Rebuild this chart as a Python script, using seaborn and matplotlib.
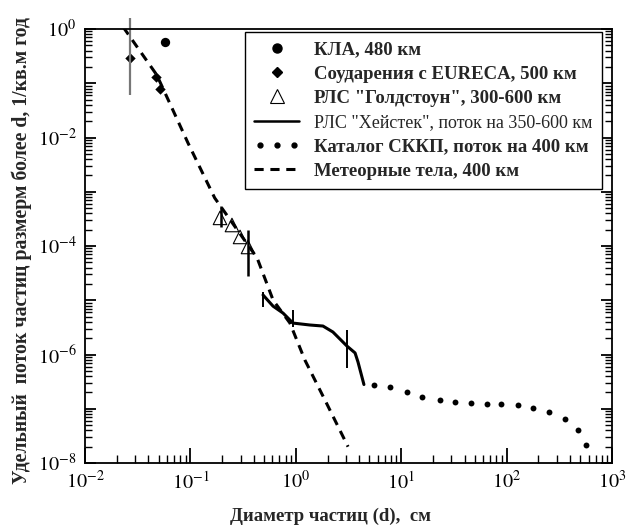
"""Удельный поток частиц космического мусора в зависимости от диаметра."""
import matplotlib

matplotlib.use("Agg")
import matplotlib.pyplot as plt
import numpy as np
import pandas as pd
import seaborn as sns
from matplotlib.legend_handler import HandlerLine2D
from matplotlib.lines import Line2D
from matplotlib.ticker import FuncFormatter, LogLocator, NullFormatter

# --- data ---
kla_d = [0.0574]
kla_flux = [0.576]

eureca_d = [0.0267, 0.0472, 0.0515]
eureca_flux = [0.29, 0.130, 0.078]
eureca_err_d = [0.0267]
eureca_err_lo = [0.061]
eureca_err_hi = [1.6]

goldstone_d = [0.191, 0.248, 0.296, 0.352]
goldstone_flux = [3.3e-4, 2.44e-4, 1.47e-4, 9.6e-5]
goldstone_err_d = [0.195, 0.352]
goldstone_err_lo = [2.24e-4, 2.8e-5]
goldstone_err_hi = [5.5e-4, 1.97e-4]

haystack_d = [0.489, 0.608, 0.757, 0.94, 1.36, 1.81, 2.25, 3.06, 3.65, 3.89, 4.43]
haystack_flux = [1.25e-5, 7.8e-6, 5.8e-6, 3.8e-6, 3.5e-6, 3.35e-6, 2.6e-6,
                 1.43e-6, 1.07e-6, 7.3e-7, 2.8e-7]
haystack_err_d = [0.489, 0.94, 3.06]
haystack_err_lo = [7.5e-6, 3.2e-6, 5.6e-7]
haystack_err_hi = [1.42e-5, 6.6e-6, 2.83e-6]

catalog_d = [5.52, 7.83, 11.4, 15.7, 23.3, 32.4, 45.9, 65.2, 88.5, 128, 178,
             252, 358, 475, 566]
catalog_flux = [2.75e-7, 2.5e-7, 2.04e-7, 1.65e-7, 1.45e-7, 1.33e-7, 1.28e-7,
                1.22e-7, 1.22e-7, 1.17e-7, 1.03e-7, 8.7e-8, 6.5e-8, 4.1e-8, 2.15e-8]

meteor_d = [0.023, 0.048, 0.095, 0.17, 0.43, 0.61, 0.88, 1.22, 1.89, 3.13]
meteor_flux = [1.09, 0.142, 7.9e-3, 7.7e-4, 6.0e-5, 1.0e-5, 3.8e-6, 7.9e-7,
               1.45e-7, 2.0e-8]

labels = [
    "КЛА, 480 км",
    "Соударения с EURECA, 500 км",
    "РЛС \"Голдстоун\", 300-600 км",
    "РЛС \"Хейстек\", поток на 350-600 км",
    "Каталог СККП, поток на 400 км",
    "Метеорные тела, 400 км",
]
x_label = "Диаметр частиц (d),  см"
y_label = "Удельный  поток частиц размерм более d, 1/кв.м год"

sns.set_style("ticks")
plt.rcParams["font.family"] = ["Liberation Serif", "DejaVu Serif"]
plt.rcParams["mathtext.fontset"] = "stix"
plt.rcParams["axes.linewidth"] = 1.3

fig = plt.figure(figsize=(6.29, 5.31), dpi=100)
ax = fig.add_axes([0.1351, 0.128, 0.8379, 0.8174])
ax.set_xscale("log")
ax.set_yscale("log")

meteor = pd.DataFrame({"d": meteor_d, "flux": meteor_flux})
sns.lineplot(data=meteor, x="d", y="flux", ax=ax, sort=False, estimator=None,
             color="black", lw=2.2, dashes=False, linestyle=(0, (3, 2.2)))

haystack = pd.DataFrame({"d": haystack_d, "flux": haystack_flux})
sns.lineplot(data=haystack, x="d", y="flux", ax=ax, sort=False, estimator=None,
             color="black", lw=2.2)

catalog = pd.DataFrame({"d": catalog_d, "flux": catalog_flux})
sns.scatterplot(data=catalog, x="d", y="flux", ax=ax, color="black", marker="o",
                s=18, linewidth=0)

sns.scatterplot(x=kla_d, y=kla_flux, ax=ax, color="black", marker="o", s=45,
                linewidth=0)
sns.scatterplot(x=eureca_d, y=eureca_flux, ax=ax, color="black", marker="D",
                s=28, linewidth=0)
sns.scatterplot(x=goldstone_d, y=goldstone_flux, ax=ax, marker="^", s=95,
                facecolor="none", edgecolor="black", linewidth=0.8)

ax.vlines(eureca_err_d, eureca_err_lo, eureca_err_hi, color="#777777", lw=1.6,
          clip_on=False)
ax.vlines(goldstone_err_d, goldstone_err_lo, goldstone_err_hi, color="black", lw=1.8)
ax.vlines(haystack_err_d, haystack_err_lo, haystack_err_hi, color="black", lw=1.4)

ax.set_xlim(1e-2, 1e3)
ax.set_ylim(1e-8, 1e0)

ax.xaxis.set_major_locator(LogLocator(base=10, numticks=20))
ax.xaxis.set_minor_locator(LogLocator(base=10, subs=np.arange(2, 10), numticks=100))
ax.yaxis.set_major_locator(LogLocator(base=10, numticks=20))
ax.yaxis.set_minor_locator(LogLocator(base=10, subs=np.arange(2, 10), numticks=100))
ax.xaxis.set_minor_formatter(NullFormatter())
ax.yaxis.set_minor_formatter(NullFormatter())


def _xfmt(v, _pos):
    return r"$10^{%d}$" % round(np.log10(v))


def _yfmt(v, _pos):
    e = round(np.log10(v))
    return r"$10^{%d}$" % e if e % 2 == 0 else ""


ax.xaxis.set_major_formatter(FuncFormatter(_xfmt))
ax.yaxis.set_major_formatter(FuncFormatter(_yfmt))
ax.tick_params(axis="both", which="both", direction="in", colors="black",
               right=True, top=False, labelsize=14.5)
ax.tick_params(axis="x", which="major", length=11, width=1.3, pad=6)
ax.tick_params(axis="x", which="minor", length=6, width=1.0)
ax.tick_params(axis="y", which="major", length=8, width=1.3, pad=6)
ax.tick_params(axis="y", which="minor", length=5, width=1.0)
for side in ["top", "right", "left", "bottom"]:
    ax.spines[side].set_visible(True)
    ax.spines[side].set_color("black")

ax.set_xlabel(x_label, fontsize=13.5, fontweight="bold")
ax.set_ylabel(y_label, fontsize=14.2, fontweight="bold")
ax.xaxis.set_label_coords(0.465, -0.103)
ax.yaxis.set_label_coords(-0.1, 0.49)

handles = [
    Line2D([], [], ls="none", marker="o", ms=6.5, color="black"),
    Line2D([], [], ls="none", marker="D", ms=5, color="black"),
    Line2D([], [], ls="none", marker="^", ms=10, mfc="none", mec="black", mew=0.8),
    Line2D([], [], color="black", lw=1.8),
    Line2D([], [], ls="none", marker="o", ms=3.5, color="black"),
    Line2D([], [], color="black", lw=2.2, linestyle=(0, (3, 2.2))),
]
leg = ax.legend(handles, labels, loc="upper right", bbox_to_anchor=(0.981, 0.993),
                frameon=True, fancybox=False, edgecolor="black", framealpha=1,
                prop={"size": 13.5, "weight": "bold"}, handlelength=2.4,
                handletextpad=0.8, labelspacing=0.38, borderpad=0.5,
                borderaxespad=0, numpoints=1,
                handler_map={handles[4]: HandlerLine2D(numpoints=3)})
leg.get_frame().set_linewidth(1.0)
leg.get_texts()[3].set_fontweight("normal")
leg.get_texts()[3].set_fontsize(13)

fig.savefig("out.png", dpi=100)
plt.close(fig)
